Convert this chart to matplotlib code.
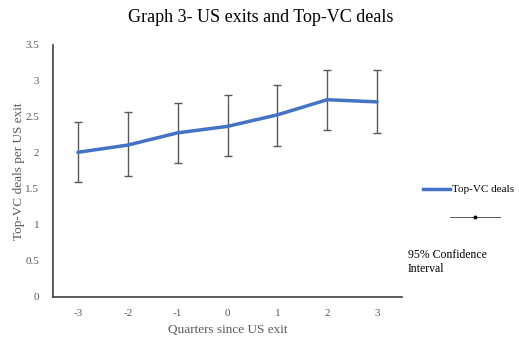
import matplotlib
matplotlib.use("Agg")
import matplotlib.pyplot as plt
from matplotlib.lines import Line2D

quarters = ["-3", "-2", "-1", "0", "1", "2", "3"]
deals = [2.01, 2.11, 2.28, 2.37, 2.53, 2.74, 2.71]
ci_low = [1.60, 1.68, 1.86, 1.96, 2.10, 2.32, 2.28]
ci_high = [2.43, 2.57, 2.69, 2.80, 2.94, 3.15, 3.15]
y_ticks = [0, 0.5, 1, 1.5, 2, 2.5, 3, 3.5]
y_tick_labels = ["0", "0.5", "1", "1.5", "2", "2.5", "3", "3.5"]

plt.rcParams["font.family"] = ["Liberation Serif", "DejaVu Serif"]

fig = plt.figure(figsize=(5.19, 3.38), dpi=100)
ax = fig.add_axes([53 / 519, 41 / 338, 349 / 519, 252 / 338])

x = list(range(len(quarters)))
err_lo = [d - l for d, l in zip(deals, ci_low)]
err_hi = [h - d for d, h in zip(deals, ci_high)]

ax.errorbar(x, deals, yerr=[err_lo, err_hi], fmt="none", ecolor="#595959",
            elinewidth=1.0, capsize=3, capthick=1.0, zorder=2)
ax.plot(x, deals, color="#4472C4", linewidth=2.5, zorder=3,
        solid_capstyle="round")

ax.set_xlim(-0.5, len(quarters) - 0.5)
ax.set_ylim(0, 3.5)
ax.set_xticks(x)
ax.set_xticklabels(quarters)
ax.set_yticks(y_ticks)
ax.set_yticklabels(y_tick_labels)
ax.tick_params(axis="both", length=0, labelsize=8, colors="#595959", pad=9)
ax.tick_params(axis="y", pad=10)

for side in ("top", "right"):
    ax.spines[side].set_visible(False)
for side in ("left", "bottom"):
    ax.spines[side].set_color("#404040")
    ax.spines[side].set_linewidth(1.2)

ax.set_xlabel("Quarters since US exit", fontsize=9.5, color="#595959", labelpad=4)
ax.set_ylabel("Top-VC deals per US exit", fontsize=9.5, color="#595959", labelpad=0)

fig.text(261 / 519, 1 - 18 / 338, "Graph 3- US exits and Top-VC deals",
         ha="center", va="center", fontsize=13, color="#000000")

# Legend: series line and confidence-interval key
fig.add_artist(Line2D([423 / 519, 450 / 519], [1 - 189 / 338, 1 - 189 / 338],
                      color="#4472C4", linewidth=2.5, transform=fig.transFigure))
fig.text(452 / 519, 1 - 189 / 338, "Top-VC deals", ha="left", va="center",
         fontsize=8, color="#000000")
fig.add_artist(Line2D([450 / 519, 500 / 519], [1 - 217 / 338, 1 - 217 / 338],
                      color="#595959", linewidth=0.7, transform=fig.transFigure))
fig.add_artist(Line2D([475 / 519], [1 - 217 / 338], marker="o", markersize=1.8,
                      color="#000000", transform=fig.transFigure))
fig.text(408 / 519, 1 - 262 / 338, "95% Confidence\nInterval", ha="left",
         va="center", fontsize=8.5, color="#000000", linespacing=1.15)

fig.savefig("out.png", dpi=100)
